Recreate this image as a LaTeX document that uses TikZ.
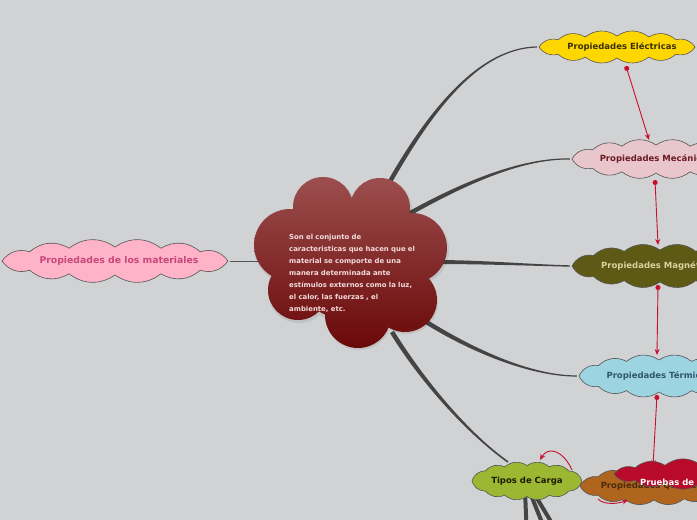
\documentclass[tikz,border=0pt]{standalone}
\usepackage{fontspec}
\setmainfont{DejaVu Sans}
\usetikzlibrary{arrows.meta,calc}
\definecolor{bg}{HTML}{D1D2D4}
\definecolor{branchc}{HTML}{444444}
\definecolor{cloudline}{HTML}{555555}
\definecolor{relc}{HTML}{C8102E}
\definecolor{pinkc}{HTML}{FFB3C9}
\definecolor{pinkt}{HTML}{C8467A}
\definecolor{yel}{HTML}{FFD700}
\definecolor{yelt}{HTML}{3A3000}
\definecolor{mecc}{HTML}{E8C6CB}
\definecolor{mect}{HTML}{6B1A24}
\definecolor{magc}{HTML}{5E5A16}
\definecolor{magt}{HTML}{D8D2A0}
\definecolor{terc}{HTML}{9DD4E2}
\definecolor{tert}{HTML}{2D5870}
\definecolor{tipc}{HTML}{9CB832}
\definecolor{tipt}{HTML}{1A1A00}
\definecolor{quic}{HTML}{B0651F}
\definecolor{quit}{HTML}{4A2A0C}
\definecolor{pruc}{HTML}{B80B2B}
\definecolor{ctrtop}{HTML}{9C4E4E}
\definecolor{ctrbot}{HTML}{6A0808}
\definecolor{ctrtxt}{HTML}{F3DCDC}
\newcommand\branchfill[8]{%
  \fill[branchc] ($(#1)+(#5,#6)$) .. controls ($#2+(#5,#6)$) and ($#3+(#7,#8)$) .. ($(#4)+(#7,#8)$)
   -- ($(#4)-(#7,#8)$) .. controls ($#3-(#7,#8)$) and ($#2-(#5,#6)$) .. ($(#1)-(#5,#6)$) -- cycle;}
% name, cx, cy, W, H, fill, text colour, text
\newcommand\cloudnode[8]{%
  \fill[#6, draw=cloudline, line width=0.6pt] ({#2+#4/2-2},{#3})
    \foreach \ang in {41,66,90,114,139,180,221,246,270,294,319,360} {
      to[bend left=36] ({#2+(#4/2-2)*cos(\ang)},{#3+(#5/2-6)*sin(\ang)}) } -- cycle;
  \node[txt, text=#7, minimum width=#4, minimum height=#5] (#1) at (#2,#3) {#8};}
\tikzset{
  txt/.style={inner sep=0pt, font=\bfseries\fontsize{8.5}{10}\selectfont},
  rel/.style={draw=relc, line width=0.9pt, {Circle[length=5pt]}-{Stealth[length=6pt,width=5pt]}},
  relcurve/.style={draw=relc, line width=0.9pt, -{Stealth[length=6pt,width=5pt]}},
  thinlink/.style={draw=cloudline, line width=0.9pt},
  sublink/.style={draw=branchc, line width=4pt}
}
\begin{document}
\begin{tikzpicture}[x=1pt,y=-1pt]
\useasboundingbox (0,0) rectangle (697,520);
\fill[bg] (0,0) rectangle (697,520);
\clip (0,0) rectangle (697,520);

\coordinate (ctr) at (350,260);
\coordinate (ctr-ele) at (388,185);
\coordinate (ctr-mec) at (405,216);
\coordinate (ctr-mag) at (435,262);
\coordinate (ctr-ter) at (420,318);
\coordinate (ctr-tip) at (392,332);
\coordinate (ctr-mat) at (262,261);

\cloudnode{mat}{115}{261}{230}{40}{pinkc}{pinkt}{\fontsize{9.3}{11}\selectfont\hspace*{8pt}Propiedades de los materiales}
\cloudnode{ele}{617}{47}{160}{34}{yel}{yelt}{\hspace*{10pt}Propiedades Eléctricas}
\cloudnode{mec}{656}{159}{172}{40}{mecc}{mect}{Propiedades Mecánicas}
\cloudnode{mag}{660}{266}{180}{44}{magc}{magt}{Propiedades Magnéticas}
\cloudnode{ter}{659}{376}{164}{44}{terc}{tert}{Propiedades Térmicas}

% --- branches from the centre ---
\branchfill{ctr-ele}{(425,120)}{(475,48)}{ele.west}{1.9}{1.1}{0}{0.6}
\branchfill{ctr-mec}{(460,185)}{(520,158)}{mec.west}{1.1}{1.9}{0}{0.6}
\branchfill{ctr-mag}{(480,262)}{(530,265)}{mag.west}{0}{2}{0}{0.7}
\branchfill{ctr-ter}{(470,350)}{(530,376)}{ter.west}{-1.2}{1.9}{0}{0.6}
\coordinate (tip-in) at (508,462);
\branchfill{ctr-tip}{(425,385)}{(470,435)}{tip-in}{-1.9}{1.2}{-0.45}{0.65}
\draw[thinlink] (mat.east) -- (ctr-mat);

% --- sub links below Tipos de Carga ---
\coordinate (tb1) at (527,540);
\coordinate (tb2) at (549,540);
\coordinate (tb3) at (562,540);
\draw[sublink] (525,490) -- (tb1);
\draw[sublink] (529,490) -- (tb2);
\draw[sublink] (532,490) -- (tb3);

% --- centre cloud ---
\fill[black, opacity=0.08] (324,209) circle (31) (381,210) circle (31) (413,250) circle (36)
  (406,302) circle (32) (359,317) circle (33) (299,292) circle (31) (291,247) circle (37) (351,262) circle (62);
\shade[top color=ctrtop, bottom color=ctrbot]
  (323,207) circle (30) (380,208) circle (30) (412,248) circle (35)
  (405,300) circle (32) (358,315) circle (33) (298,290) circle (30)
  (290,245) circle (36) (350,260) circle (60);
\node[anchor=north west, inner sep=0pt, text width=150pt, align=left, text=ctrtxt,
  font=\bfseries\fontsize{6.9}{12}\selectfont] (ctrt) at (289,234)
  {Son el conjunto de\\caracteristicas que hacen que el\\material se comporte de una\\manera determinada ante\\estímulos externos como la luz,\\el calor, las fuerzas , el\\ambiente, etc.};

% --- lower clouds ---
\cloudnode{tip}{527}{481}{114}{43}{tipc}{tipt}{Tipos de Carga}
\cloudnode{qui}{654}{486}{152}{40}{quic}{quit}{\raisebox{-3pt}{Propiedades Químicas}}

% --- relations ---
\coordinate (e1) at (626,66);
\coordinate (m1) at (649,140);
\coordinate (m2) at (655,180);
\coordinate (g1) at (658,245);
\coordinate (g2) at (658,285);
\coordinate (t1) at (657,355);
\coordinate (t2) at (657,395);
\coordinate (p1) at (653,466);
\draw[rel] (e1) -- (m1);
\draw[rel] (m2) -- (g1);
\draw[rel] (g2) -- (t1);
\draw[rel] (t2) -- (p1);
\coordinate (q1) at (572,470);
\coordinate (k1) at (540,460);
\draw[relcurve] (q1) .. controls (563,450) and (548,446) .. (k1);
\coordinate (q2) at (598,499);
\coordinate (p2) at (628,500);
\draw[relcurve] (q2) .. controls (604,505) and (617,504) .. (p2);

\cloudnode{pru}{700}{474}{176}{31}{pruc}{white}{}
\node[anchor=west, txt, text=white] (prut) at (640,482) {Pruebas de};
\end{tikzpicture}
\end{document}
